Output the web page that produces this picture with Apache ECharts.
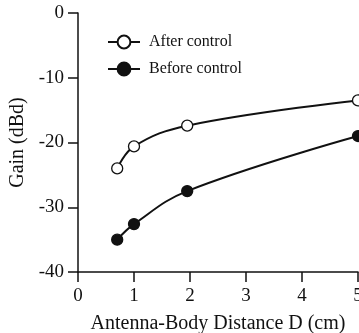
<!DOCTYPE html>
<html><head><meta charset="utf-8">
<script src="https://cdn.jsdelivr.net/npm/echarts@6/dist/echarts.min.js"></script>
<style>html,body{margin:0;padding:0;background:#fff}#c{width:359px;height:333px}</style>
</head><body><div id="c"></div>
<script>
var distances = [0.7, 1.0, 1.95, 5.0];
var afterControl = [-24.0, -20.6, -17.4, -13.5];
var beforeControl = [-35.0, -32.6, -27.5, -19.0];
var seriesNames = ['After control', 'Before control'];

function pairs(xs, ys){ return xs.map(function(x,i){ return [x, ys[i]]; }); }
var font = 'Liberation Serif';
var chart = echarts.init(document.getElementById('c'), null, {renderer:'canvas'});
chart.setOption({
  animation:false,
  backgroundColor:'#fff',
  grid:{left:78, right:1, top:13, bottom:61, containLabel:false, outerBoundsMode:'none'},
  legend:{
    orient:'vertical', left:102, top:29, itemGap:11, itemWidth:32, itemHeight:16,
    textStyle:{fontFamily:font, fontSize:16, color:'#111', padding:[0,0,0,4]},
    data:seriesNames
  },
  xAxis:{
    type:'value', position:'bottom', min:0, max:5, interval:1,
    name:'Antenna-Body Distance D (cm)', nameLocation:'middle', nameGap:42,
    nameTextStyle:{fontFamily:font, fontSize:20, color:'#111'},
    axisLine:{onZero:false, lineStyle:{color:'#111', width:1.5}},
    axisTick:{show:true, inside:false, length:10, lineStyle:{color:'#111', width:1.5}},
    axisLabel:{fontFamily:font, fontSize:19, color:'#111', margin:15},
    splitLine:{show:false}
  },
  yAxis:{
    type:'value', position:'left', min:-40, max:0, interval:10,
    name:'Gain (dBd)', nameLocation:'middle', nameGap:46,
    nameTextStyle:{fontFamily:font, fontSize:20, color:'#111'},
    axisLine:{show:true, onZero:false, lineStyle:{color:'#111', width:1.5}},
    axisTick:{show:true, inside:false, length:10, lineStyle:{color:'#111', width:1.5}},
    axisLabel:{fontFamily:font, fontSize:19, color:'#111', margin:14},
    splitLine:{show:false}
  },
  series:[
    {name:seriesNames[0], type:'line', smooth:0.4, data:pairs(distances, afterControl),
     symbol:'circle', symbolSize:11, lineStyle:{color:'#111', width:2},
     itemStyle:{color:'#fff', borderColor:'#111', borderWidth:1.3}},
    {name:seriesNames[1], type:'line', smooth:0.4, data:pairs(distances, beforeControl),
     symbol:'circle', symbolSize:11, lineStyle:{color:'#111', width:2},
     itemStyle:{color:'#111', borderColor:'#111', borderWidth:1.3}}
  ]
});
</script></body></html>
